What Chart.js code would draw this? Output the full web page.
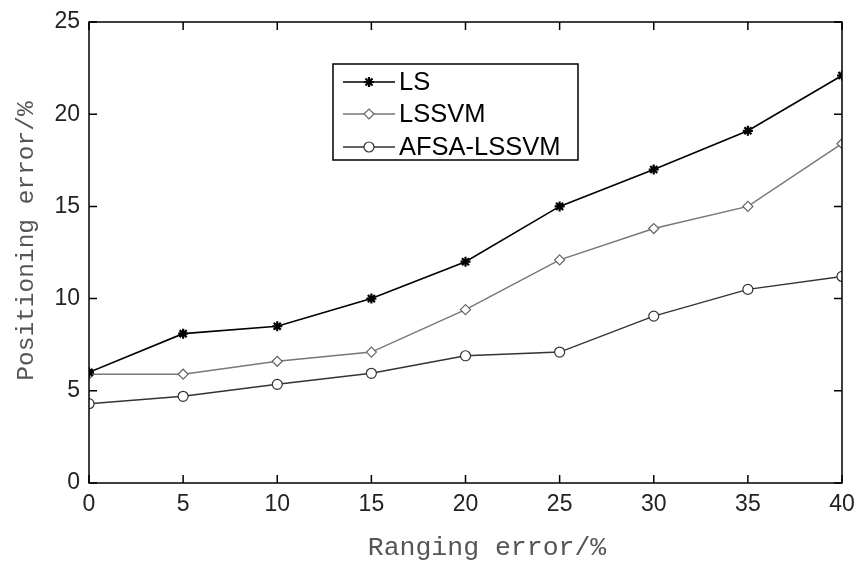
<!DOCTYPE html>
<html>
<head>
<meta charset="utf-8">
<script src="https://cdn.jsdelivr.net/npm/chart.js@4/dist/chart.umd.min.js"></script>
<style>
  html, body { margin: 0; padding: 0; background: #fff; }
  #wrap { width: 856px; height: 566px; }
</style>
</head>
<body>
<div id="wrap"><canvas id="chart" width="856" height="566"></canvas></div>
<script>
const rangingError = [0, 5, 10, 15, 20, 25, 30, 35, 40];
const lsErr = [6.0, 8.1, 8.5, 10.0, 12.0, 15.0, 17.0, 19.1, 22.1];
const lssvmErr = [5.9, 5.9, 6.6, 7.1, 9.4, 12.1, 13.8, 15.0, 18.4];
const afsaErr = [4.3, 4.7, 5.35, 5.95, 6.9, 7.1, 9.05, 10.5, 11.2];
const seriesNames = ["LS", "LSSVM", "AFSA-LSSVM"];
const yTicks = [0, 5, 10, 15, 20, 25];
const xTitle = "Ranging error/%";
const yTitle = "Positioning error/%";

const pts = arr => rangingError.map((x, i) => ({ x: x, y: arr[i] }));

// matlab-ish box, inward ticks, axis titles and the legend
const boxPlugin = {
  id: "box",
  afterDraw(chart) {
    const ctx = chart.ctx;
    const a = chart.chartArea;
    const xs = chart.scales.x, ys = chart.scales.y;
    ctx.save();
    ctx.strokeStyle = "#000";
    ctx.lineWidth = 1.5;
    ctx.strokeRect(a.left, a.top, a.right - a.left, a.bottom - a.top);
    ctx.beginPath();
    xs.ticks.forEach(t => {
      const px = xs.getPixelForValue(t.value);
      ctx.moveTo(px, a.bottom); ctx.lineTo(px, a.bottom - 8);
      ctx.moveTo(px, a.top); ctx.lineTo(px, a.top + 8);
    });
    ys.ticks.forEach(t => {
      const py = ys.getPixelForValue(t.value);
      ctx.moveTo(a.left, py); ctx.lineTo(a.left + 8, py);
      ctx.moveTo(a.right, py); ctx.lineTo(a.right - 8, py);
    });
    ctx.stroke();

    // axis titles
    ctx.fillStyle = "#555";
    ctx.textAlign = "center";
    ctx.textBaseline = "middle";
    ctx.font = "26.5px 'Liberation Mono', monospace";
    ctx.fillText(xTitle, 487, 548);
    ctx.save();
    ctx.translate(27, 241);
    ctx.rotate(-Math.PI / 2);
    ctx.font = "24.5px 'Liberation Mono', monospace";
    ctx.fillText(yTitle, 0, 0);
    ctx.restore();

    // legend
    const lx = 333, ly = 64, lw = 245, lh = 96;
    ctx.fillStyle = "#fff";
    ctx.fillRect(lx, ly, lw, lh);
    ctx.strokeStyle = "#000";
    ctx.lineWidth = 1.5;
    ctx.strokeRect(lx, ly, lw, lh);
    const rows = [82, 114, 147];
    chart.data.datasets.forEach((ds, i) => {
      const y = rows[i];
      ctx.strokeStyle = ds.borderColor;
      ctx.lineWidth = ds.borderWidth;
      ctx.beginPath();
      ctx.moveTo(343, y); ctx.lineTo(395, y);
      ctx.stroke();
      ctx.fillStyle = ds.pointBackgroundColor;
      ctx.strokeStyle = ds.pointBorderColor;
      ctx.lineWidth = ds.pointBorderWidth;
      Chart.helpers.drawPoint(ctx, {
        pointStyle: ds.pointStyle, radius: ds.pointRadius,
        rotation: 0, borderWidth: ds.pointBorderWidth
      }, 369, y);
      ctx.fillStyle = "#000";
      ctx.font = "25.5px 'Liberation Sans', Arial, sans-serif";
      ctx.textBaseline = "middle";
      ctx.textAlign = "left";
      ctx.fillText(ds.label, 399, y + 1);
    });
    ctx.restore();
  }
};

new Chart(document.getElementById("chart"), {
  type: "line",
  data: {
    datasets: [
      {
        label: seriesNames[0], data: pts(lsErr),
        borderColor: "#000", borderWidth: 1.6,
        pointStyle: "star", pointRadius: 5,
        pointBackgroundColor: "#000", pointBorderColor: "#000", pointBorderWidth: 2.2
      },
      {
        label: seriesNames[1], data: pts(lssvmErr),
        borderColor: "#777", borderWidth: 1.5,
        pointStyle: "rectRot", pointRadius: 5,
        pointBackgroundColor: "#fff", pointBorderColor: "#666", pointBorderWidth: 1.2
      },
      {
        label: seriesNames[2], data: pts(afsaErr),
        borderColor: "#333", borderWidth: 1.5,
        pointStyle: "circle", pointRadius: 5,
        pointBackgroundColor: "#fff", pointBorderColor: "#333", pointBorderWidth: 1.2
      }
    ]
  },
  options: {
    responsive: false,
    animation: false,
    layout: { padding: { top: 22, right: 14, left: 0, bottom: 0 } },
    plugins: { legend: { display: false }, tooltip: { enabled: false } },
    scales: {
      x: {
        type: "linear", min: 0, max: 40,
        afterFit: s => { s.height = 83; s.paddingRight = 0; s.paddingLeft = 0; },
        afterBuildTicks: s => { s.ticks = rangingError.map(v => ({ value: v })); },
        grid: { display: false, drawTicks: false },
        border: { display: false },
        ticks: { color: "#222", padding: 8, font: { family: "'Liberation Sans', Arial", size: 23 } }
      },
      y: {
        min: 0, max: 25,
        afterFit: s => { s.width = 89; s.paddingTop = 0; s.paddingBottom = 0; },
        afterBuildTicks: s => { s.ticks = yTicks.map(v => ({ value: v })); },
        grid: { display: false, drawTicks: false },
        border: { display: false },
        ticks: { color: "#222", padding: 9, font: { family: "'Liberation Sans', Arial", size: 23 } }
      }
    }
  },
  plugins: [boxPlugin]
});
</script>
</body>
</html>
